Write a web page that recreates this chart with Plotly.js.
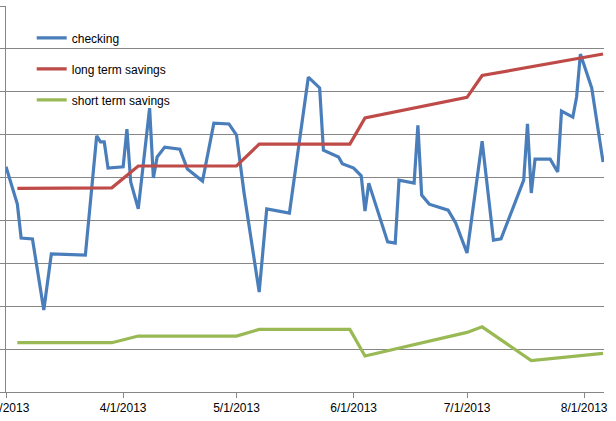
<!DOCTYPE html>
<html>
<head>
<meta charset="utf-8">
<script src="https://cdn.plot.ly/plotly-3.0.1.min.js"></script>
<style>html,body{margin:0;padding:0;background:#fff;}#chart{width:616px;height:421px;}</style>
</head>
<body>
<div id="chart"></div>
<script>
// checking account balance
var checkingDates = ['2013-03-01','2013-03-04','2013-03-05','2013-03-08','2013-03-11','2013-03-13','2013-03-22','2013-03-25','2013-03-26','2013-03-27','2013-03-28',
  '2013-04-01','2013-04-02','2013-04-03','2013-04-05','2013-04-08','2013-04-09','2013-04-10','2013-04-12','2013-04-16','2013-04-18','2013-04-22','2013-04-25','2013-04-29',
  '2013-05-01','2013-05-03','2013-05-07','2013-05-09','2013-05-15','2013-05-20','2013-05-23','2013-05-24','2013-05-28','2013-05-29',
  '2013-06-01','2013-06-03','2013-06-04','2013-06-05','2013-06-10','2013-06-12','2013-06-13','2013-06-17','2013-06-18','2013-06-19','2013-06-21','2013-06-26','2013-06-28',
  '2013-07-01','2013-07-05','2013-07-08','2013-07-10','2013-07-16','2013-07-17','2013-07-18','2013-07-19','2013-07-23','2013-07-25','2013-07-26','2013-07-29','2013-07-30','2013-07-31',
  '2013-08-03','2013-08-06'];
var checkingValues = [5250,4380,3590,3570,1910,3220,3190,5970,5830,5830,5220,
  5250,6130,4900,4270,6620,4990,5480,5710,5660,5200,4920,6270,6250,
  5990,4640,2330,4270,4170,7340,7090,5640,5480,5320,
  5220,5040,4220,4870,3500,3470,4940,4870,6220,4590,4380,4240,3940,
  3240,5850,3540,3570,4940,6250,4640,5430,5430,5130,6550,6410,6880,7880,
  7090,5360];

// long term savings
var longDates = ['2013-03-04','2013-03-29','2013-04-05','2013-05-01','2013-05-07','2013-05-31','2013-06-04','2013-07-01','2013-07-05','2013-08-06'];
var longValues = [4750,4760,5270,5270,5780,5780,6390,6870,7380,7880];

// short term savings
var shortDates = ['2013-03-04','2013-03-29','2013-04-05','2013-05-01','2013-05-07','2013-05-31','2013-06-04','2013-07-01','2013-07-05','2013-07-18','2013-08-06'];
var shortValues = [1150,1150,1305,1305,1460,1460,840,1390,1520,730,900];

var seriesNames = ['checking','long term savings','short term savings'];
var tickDates = ['2013-03-01','2013-04-01','2013-05-01','2013-06-01','2013-07-01','2013-08-01'];
var tickLabels = ['3/1/2013','4/1/2013','5/1/2013','6/1/2013','7/1/2013','8/1/2013'];

var colors = ['#4A7EBB','#BE4B48','#98B954'];
var xs = [checkingDates, longDates, shortDates];
var ys = [checkingValues, longValues, shortValues];

var traces = xs.map(function(x, i){
  return {
    x: x, y: ys[i], type: 'scatter', mode: 'lines', name: seriesNames[i],
    legendgroup: 'g' + i,
    line: {color: colors[i], width: 3.2}
  };
});

var grid = '#868686';
var layout = {
  width: 616, height: 421,
  margin: {l: 6, r: 12, t: 6, b: 29, pad: 0},
  paper_bgcolor: '#fff', plot_bgcolor: '#fff',
  font: {family: '"Liberation Sans", Arial, sans-serif', size: 12, color: '#000'},
  showlegend: true,
  legend: {
    x: 0.043, xanchor: 'left', y: 0.955, yanchor: 'top',
    bgcolor: 'rgba(0,0,0,0)', borderwidth: 0,
    traceorder: 'grouped', tracegroupgap: 12,
    font: {size: 12, color: '#000'}
  },
  xaxis: {
    type: 'date',
    range: ['2013-03-01', '2013-08-06 06:00'],
    tickmode: 'array', tickvals: tickDates, ticktext: tickLabels,
    ticklabeloverflow: 'allow',
    showgrid: false, zeroline: false,
    showline: true, linecolor: grid, linewidth: 1,
    ticks: 'outside', ticklen: 5, tickcolor: grid, tickwidth: 1,
    tickfont: {size: 12, color: '#000'}
  },
  yaxis: {
    range: [0, 9000], dtick: 1000, tick0: 0,
    showgrid: true, gridcolor: grid, gridwidth: 1,
    zeroline: false,
    showline: true, linecolor: grid, linewidth: 1,
    ticks: 'outside', ticklen: 5, tickcolor: grid, tickwidth: 1,
    showticklabels: false
  }
};

Plotly.newPlot('chart', traces, layout, {displayModeBar: false, staticPlot: true});
</script>
</body>
</html>
